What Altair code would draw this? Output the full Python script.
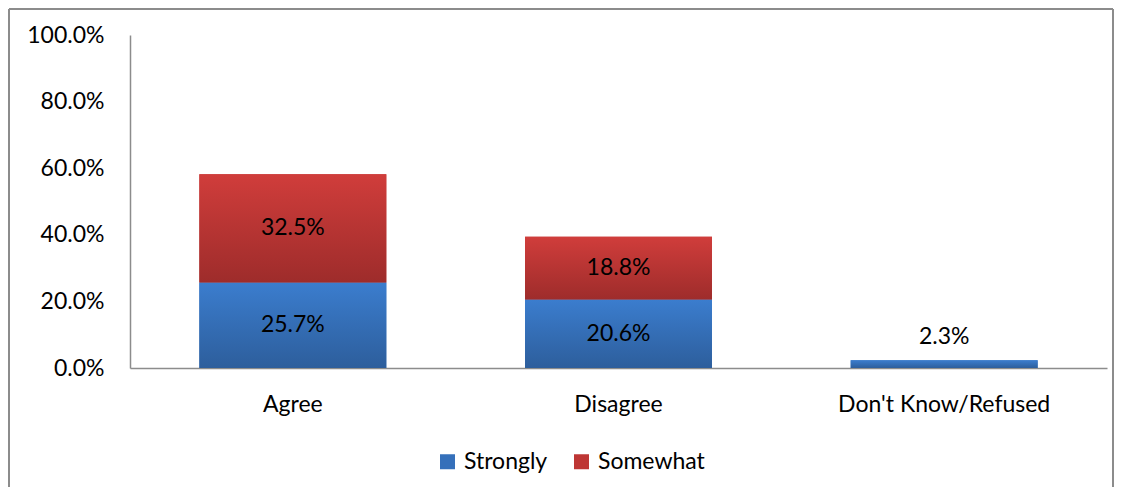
import altair as alt
import pandas as pd

categories = ["Agree", "Agree", "Disagree", "Disagree", "Don't Know/Refused"]
series = ["Strongly", "Somewhat", "Strongly", "Somewhat", "Strongly"]
values = [25.7, 32.5, 20.6, 18.8, 2.3]
orders = [0, 1, 0, 1, 0]
cat_order = ["Agree", "Disagree", "Don't Know/Refused"]
series_names = ["Strongly", "Somewhat"]
series_colors = ["#3570BA", "#BE3634"]
y_ticks = [0, 20, 40, 60, 80, 100]

df = pd.DataFrame({"cat": categories, "series": series, "value": values, "ord": orders})

FONT = "Lato"
FS = 23
W, H = 977, 333

blue_grad = {"gradient": "linear", "x1": 0, "y1": 0, "x2": 0, "y2": 1,
             "stops": [{"offset": 0, "color": "#3B7DCE"}, {"offset": 1, "color": "#2D5E9C"}]}
red_grad = {"gradient": "linear", "x1": 0, "y1": 0, "x2": 0, "y2": 1,
            "stops": [{"offset": 0, "color": "#D03D3B"}, {"offset": 1, "color": "#9E2C2B"}]}

base = alt.Chart(df).transform_stack(
    stack="value", groupby=["cat"], as_=["y0", "y1"], sort=[alt.SortField("ord")]
).transform_calculate(
    mid="(datum.y0 + datum.y1) / 2",
    label="format(datum.value, '.1f') + '%'"
)

xenc = alt.X("cat:N", sort=cat_order, title=None,
             scale=alt.Scale(paddingInner=0.426, paddingOuter=0.213),
             axis=alt.Axis(labelAngle=0, labelFontSize=FS, labelFont=FONT, labelColor="#000",
                           labelPadding=25, labelLimit=0, ticks=False,
                           domainColor="#8C8C8C", domainWidth=1.5))

yscale = alt.Scale(domain=[0, 100])

solid = base.mark_bar().encode(
    x=xenc,
    y=alt.Y("y0:Q", scale=yscale, title=None,
            axis=alt.Axis(values=y_ticks, labelExpr="format(datum.value, '.1f') + '%'",
                          labelFontSize=FS, labelFont=FONT, labelColor="#000", labelPadding=26,
                          ticks=False, grid=False, domainColor="#8C8C8C", domainWidth=1.5)),
    y2="y1:Q",
    color=alt.Color("series:N", scale=alt.Scale(domain=series_names, range=series_colors),
                    legend=alt.Legend(title=None, orient="none", direction="horizontal",
                                      legendX=306, legendY=415, symbolType="square", symbolSize=225,
                                      symbolStrokeWidth=0, labelFontSize=FS, labelFont=FONT,
                                      labelColor="#000", columnPadding=22, labelOffset=5)),
)

grad = base.mark_bar().encode(
    x=alt.X("cat:N", sort=cat_order),
    y="y0:Q",
    y2="y1:Q",
    fill=alt.condition(alt.datum.series == "Strongly", alt.value(blue_grad), alt.value(red_grad)),
)

text_mid = base.transform_filter("datum.value >= 5").mark_text(
    fontSize=FS, font=FONT, color="#000", baseline="middle"
).encode(x=alt.X("cat:N", sort=cat_order), y="mid:Q", text="label:N")

text_top = base.transform_filter("datum.value < 5").mark_text(
    fontSize=FS, font=FONT, color="#000", baseline="middle", dy=-23
).encode(x=alt.X("cat:N", sort=cat_order), y="y1:Q", text="label:N")

border_l = alt.Chart(df).mark_rule(color="#8C8C8C", strokeWidth=1.5).encode(
    x=alt.value(-121), y=alt.value(-26), y2=alt.value(460))
border_t = alt.Chart(df).mark_rule(color="#8C8C8C", strokeWidth=1.5).encode(
    x=alt.value(-121), x2=alt.value(983), y=alt.value(-26))
border_r = alt.Chart(df).mark_rule(color="#8C8C8C", strokeWidth=1.5).encode(
    x=alt.value(983), y=alt.value(-26), y2=alt.value(460))

chart = alt.layer(solid, grad, text_mid, text_top, border_l, border_t, border_r).properties(
    width=W, height=H,
    background="white",
    autosize=alt.AutoSizeParams(type="none"),
    padding={"left": 122, "top": 27, "right": 7, "bottom": 119},
).configure_view(stroke=None)

chart.save("out.html", embed_options={"renderer": "svg", "actions": False})
